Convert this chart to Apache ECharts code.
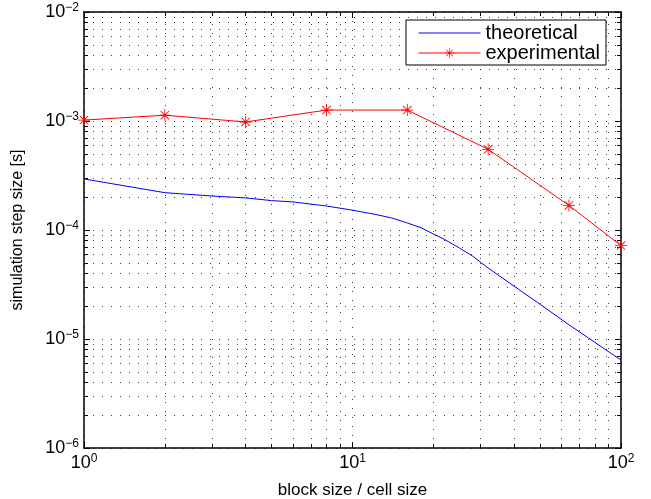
<!DOCTYPE html>
<html>
<head>
<meta charset="utf-8">
<script src="https://cdn.jsdelivr.net/npm/echarts@6/dist/echarts.min.js"></script>
<style>
  html, body { margin: 0; padding: 0; background: #fff; }
  #chart { width: 651px; height: 499px; }
</style>
</head>
<body>
<div id="chart"></div>
<script>
// data
var expX = [1, 2, 4, 8, 16, 32, 64, 100];
var expY = [1.02e-3, 1.13e-3, 0.98e-3, 1.26e-3, 1.26e-3, 5.5e-4, 1.68e-4, 7.2e-5];
var theoX = [1, 2, 3, 4, 5, 6, 8, 10, 12, 14, 16, 18, 20, 22, 25, 28, 32, 40, 50, 64, 80, 100];
var theoY = [2.94e-4, 2.2e-4, 2.05e-4, 1.97e-4, 1.86e-4, 1.81e-4, 1.66e-4, 1.52e-4,
             1.4e-4, 1.29e-4, 1.16e-4, 1.05e-4, 9.2e-5, 8.2e-5, 6.84e-5, 5.77e-5,
             4.48e-5, 3.05e-5, 2.08e-5, 1.35e-5, 9.3e-6, 6.4e-6];
var xDecades = [0, 1, 2];
var yDecades = [-6, -5, -4, -3, -2];
var minorSteps = [2, 3, 4, 5, 6, 7, 8, 9];

var FONT = '"Liberation Sans", Arial, Helvetica, sans-serif';
var xMin = Math.pow(10, xDecades[0]), xMax = Math.pow(10, xDecades[xDecades.length - 1]);
var yMin = Math.pow(10, yDecades[0]), yMax = Math.pow(10, yDecades[yDecades.length - 1]);
var plotW = 651 - 84 - 30, plotH = 499 - 12 - 51;

function pairs(xs, ys) {
    return xs.map(function (x, i) { return [x, ys[i]]; });
}

function minors(decades) {
    var out = [];
    for (var i = 0; i < decades.length - 1; i++) {
        minorSteps.forEach(function (k) { out.push(k * Math.pow(10, decades[i])); });
    }
    return out;
}

function powLabel(v) {
    var e = Math.round(Math.log10(v));
    return '{b|10}{e|' + String(e).replace('-', '\u2212') + '}';
}

var labelRich = {
    b: { fontSize: 18, fontFamily: FONT, color: '#000' },
    e: { fontSize: 12, fontFamily: FONT, color: '#000', padding: [0, 0, 9, 0] }
};

// matlab style dotted minor grid + small inside minor ticks, drawn as segments
var dotted = { type: [1, 8], color: '#000', width: 1, opacity: 0.75 };
var tickStyle = { type: 'solid', color: '#000', width: 1, opacity: 1 };
var xMinor = minors(xDecades), yMinor = minors(yDecades);
var fy = Math.pow(10, 4 * (yDecades.length - 1) / plotH);
var fx = Math.pow(10, 4 * (xDecades.length - 1) / plotW);
var gridSegs = [];
xMinor.forEach(function (m) {
    gridSegs.push({ coords: [[m, yMin], [m, yMax]], lineStyle: dotted });
    gridSegs.push({ coords: [[m, yMin], [m, yMin * fy]], lineStyle: tickStyle });
    gridSegs.push({ coords: [[m, yMax], [m, yMax / fy]], lineStyle: tickStyle });
});
yMinor.forEach(function (m) {
    gridSegs.push({ coords: [[xMin, m], [xMax, m]], lineStyle: dotted });
    gridSegs.push({ coords: [[xMin, m], [xMin * fx, m]], lineStyle: tickStyle });
    gridSegs.push({ coords: [[xMax, m], [xMax / fx, m]], lineStyle: tickStyle });
});

var star = 'path://M9.3 0L10.7 0L10.7 20L9.3 20Z M0 9.3L20 9.3L20 10.7L0 10.7Z ' +
    'M2.5 3.5L3.5 2.5L17.5 16.5L16.5 17.5Z M16.5 2.5L17.5 3.5L3.5 17.5L2.5 16.5Z';

var axisLine = { lineStyle: { color: '#000', width: 1.5 } };

var myChart = echarts.init(document.getElementById('chart'));

var option = {
    animation: false,
    backgroundColor: '#fff',
    textStyle: { fontFamily: FONT },
    grid: { left: 84, right: 30, top: 12, bottom: 51, outerBoundsMode: 'none', containLabel: false },
    legend: {
        data: [
            { name: 'theoretical', itemStyle: { opacity: 0 } },
            { name: 'experimental' }
        ],
        orient: 'vertical',
        left: 406,
        top: 20,
        padding: [3, 6, 2, 12],
        itemGap: 0,
        itemWidth: 62,
        itemHeight: 12,
        lineStyle: { width: 1 },
        backgroundColor: '#fff',
        borderColor: '#000',
        borderWidth: 1,
        borderRadius: 0,
        textStyle: { fontSize: 20, fontFamily: FONT, color: '#000' }
    },
    xAxis: [{
        type: 'log',
        logBase: 10,
        min: xMin,
        max: xMax,
        name: 'block size / cell size',
        nameLocation: 'middle',
        nameGap: 34,
        nameTextStyle: { fontSize: 17, fontFamily: FONT, color: '#000' },
        axisLine: axisLine,
        axisTick: { inside: true, length: 6, lineStyle: { color: '#000' } },
        axisLabel: { formatter: powLabel, margin: 5, rich: labelRich },
        splitLine: { show: true, lineStyle: dotted }
    }, {
        type: 'log',
        logBase: 10,
        min: xMin,
        max: xMax,
        position: 'top',
        axisLine: axisLine,
        axisTick: { inside: true, length: 6, lineStyle: { color: '#000' } },
        axisLabel: { show: false },
        splitLine: { show: false }
    }],
    yAxis: [{
        type: 'log',
        logBase: 10,
        min: yMin,
        max: yMax,
        name: 'simulation step size [s]',
        nameLocation: 'middle',
        nameGap: 58,
        nameTextStyle: { fontSize: 16, fontFamily: FONT, color: '#000' },
        axisLine: axisLine,
        axisTick: { inside: true, length: 6, lineStyle: { color: '#000' } },
        axisLabel: { formatter: powLabel, margin: 5, rich: labelRich },
        splitLine: { show: true, lineStyle: dotted }
    }, {
        type: 'log',
        logBase: 10,
        min: yMin,
        max: yMax,
        position: 'right',
        axisLine: axisLine,
        axisTick: { inside: true, length: 6, lineStyle: { color: '#000' } },
        axisLabel: { show: false },
        splitLine: { show: false }
    }],
    series: [{
        name: 'grid',
        type: 'lines',
        coordinateSystem: 'cartesian2d',
        xAxisIndex: 0,
        yAxisIndex: 0,
        polyline: false,
        silent: true,
        z: 1,
        data: gridSegs
    }, {
        name: 'theoretical',
        type: 'line',
        data: pairs(theoX, theoY),
        symbol: 'none',
        lineStyle: { color: '#0000ff', width: 1 },
        itemStyle: { color: '#0000ff' },
        z: 3
    }, {
        name: 'experimental',
        type: 'line',
        data: pairs(expX, expY),
        symbol: star,
        symbolSize: 12,
        lineStyle: { color: '#ff0000', width: 1 },
        itemStyle: { color: '#ff0000' },
        z: 4
    }]
};

myChart.setOption(option);
</script>
</body>
</html>
